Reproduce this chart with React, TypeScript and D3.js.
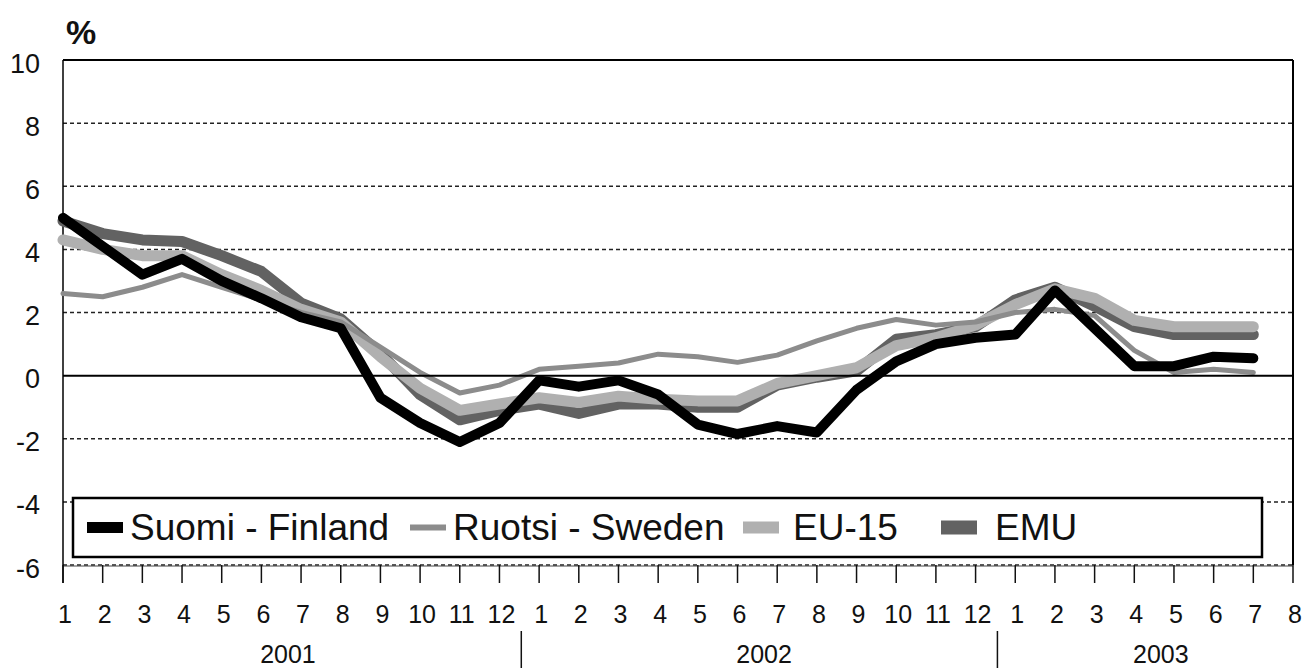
import React from "react";
import * as d3 from "d3";

// 2001-1 ... 2003-7, monthly
const finland = [
  5.0, 4.1, 3.2, 3.7, 3.0, 2.45, 1.85, 1.5, -0.7, -1.5, -2.1, -1.5,
  -0.15, -0.35, -0.15, -0.6, -1.55, -1.85, -1.6, -1.8, -0.45, 0.45, 1.0, 1.2,
  1.3, 2.7, 1.5, 0.3, 0.3, 0.6, 0.55,
];
const sweden = [
  2.6, 2.5, 2.8, 3.2, 2.8, 2.4, 2.0, 1.7, 0.9, 0.1, -0.55, -0.3,
  0.2, 0.3, 0.4, 0.68, 0.6, 0.42, 0.65, 1.1, 1.5, 1.78, 1.6, 1.7,
  2.0, 2.1, 1.9, 0.8, 0.1, 0.2, 0.1,
];
const eu15 = [
  4.3, 4.0, 3.8, 3.8, 3.2, 2.7, 2.1, 1.7, 0.6, -0.4, -1.1, -0.9,
  -0.7, -0.85, -0.65, -0.75, -0.8, -0.8, -0.25, 0.0, 0.25, 0.95, 1.2, 1.6,
  2.25, 2.75, 2.45, 1.75, 1.55, 1.55, 1.55,
];
const emu = [
  4.9, 4.5, 4.3, 4.25, 3.8, 3.3, 2.3, 1.8, 0.7, -0.6, -1.4, -1.1,
  -0.9, -1.2, -0.9, -0.9, -1.0, -1.0, -0.3, -0.05, 0.15, 1.15, 1.3, 1.55,
  2.4, 2.8, 2.2, 1.55, 1.3, 1.3, 1.3,
];

const monthLabels = [
  "1", "2", "3", "4", "5", "6", "7", "8", "9", "10", "11", "12",
  "1", "2", "3", "4", "5", "6", "7", "8", "9", "10", "11", "12",
  "1", "2", "3", "4", "5", "6", "7", "8",
];
const years = ["2001", "2002", "2003"];
const yearStart = [0, 12, 24];
const yearEnd = [11, 23, 31];
const yTicks = [10, 8, 6, 4, 2, 0, -2, -4, -6];

const series = [
  { name: "EMU", values: emu, color: "#626262", width: 11 },
  { name: "EU-15", values: eu15, color: "#b0b0b0", width: 11 },
  { name: "Ruotsi - Sweden", values: sweden, color: "#8c8c8c", width: 5 },
  { name: "Suomi - Finland", values: finland, color: "#000", width: 10 },
];

const legendItems = [
  { name: "Suomi - Finland", color: "#000", h: 11, sx: 87, tx: 130 },
  { name: "Ruotsi - Sweden", color: "#8c8c8c", h: 6, sx: 410, tx: 453 },
  { name: "EU-15", color: "#b0b0b0", h: 12, sx: 743, tx: 793 },
  { name: "EMU", color: "#626262", h: 14, sx: 941, tx: 995 },
];

const W = 1305;
const H = 668;
const left = 63;
const right = 1293;
const top = 60;
const bottom = 565;
const font = "'Liberation Sans', Arial, sans-serif";

const App = () => {
  const x = d3.scaleLinear().domain([0, monthLabels.length - 1]).range([left, right]);
  const y = d3.scaleLinear().domain([-6, 10]).range([bottom, top]);

  const line = d3
    .line<number>()
    .x((_, i) => x(i))
    .y((d) => y(d));

  return (
    <svg
      width={W}
      height={H}
      style={{ position: "absolute", left: 0, top: 0, background: "#fff" }}
      fontFamily={font}
    >
      <rect x={0} y={0} width={W} height={H} fill="#fff" />

      {/* gridlines */}
      {yTicks
        .filter((t) => t !== 10 && t !== 0)
        .map((t) => (
          <line
            key={t}
            x1={left}
            x2={right}
            y1={y(t)}
            y2={y(t)}
            stroke="#222"
            strokeWidth={1.5}
            strokeDasharray="4 3"
          />
        ))}
      <line x1={left} x2={right} y1={bottom + 1} y2={bottom + 1} stroke="#444" strokeWidth={1} />

      {/* frame */}
      <line x1={left} x2={right} y1={top} y2={top} stroke="#000" strokeWidth={2} />
      <line x1={right} x2={right} y1={top} y2={bottom} stroke="#000" strokeWidth={2} />
      <line x1={left} x2={left} y1={top} y2={bottom + 18} stroke="#000" strokeWidth={1.5} />

      {/* y labels */}
      {yTicks.map((t) => (
        <text key={t} x={40} y={y(t) + 12.5} textAnchor="end" fontSize={27} fill="#111">
          {t}
        </text>
      ))}
      <text x={66} y={44} fontSize={34} fontWeight="bold" fill="#111">
        %
      </text>

      {/* x ticks & labels */}
      {monthLabels.map((m, i) => (
        <g key={i}>
          <line x1={x(i)} x2={x(i)} y1={bottom} y2={bottom + 18} stroke="#111" strokeWidth={1.5} />
          <text x={x(i) + 2} y={623} textAnchor="middle" fontSize={25} fill="#111">
            {m}
          </text>
        </g>
      ))}
      {years.map((yr, k) => (
        <text
          key={yr}
          x={x((yearStart[k] + yearEnd[k]) / 2 + 0.17)}
          y={663}
          textAnchor="middle"
          fontSize={25}
          fill="#111"
        >
          {yr}
        </text>
      ))}
      {[11.5, 23.5].map((p) => (
        <line key={p} x1={x(p) + 2} x2={x(p) + 2} y1={631} y2={H} stroke="#111" strokeWidth={1.5} />
      ))}

      {/* series */}
      {series.map((s) => (
        <path
          key={s.name}
          d={line(s.values) || ""}
          fill="none"
          stroke={s.color}
          strokeWidth={s.width}
          strokeLinejoin="round"
          strokeLinecap="round"
        />
      ))}

      {/* zero line */}
      <line x1={left} x2={right} y1={y(0)} y2={y(0)} stroke="#000" strokeWidth={2} />

      {/* legend */}
      <rect x={73} y={498} width={1189} height={59} fill="#fff" stroke="#000" strokeWidth={2.5} />
      {legendItems.map((l) => (
        <g key={l.name}>
          <rect x={l.sx} y={527.5 - l.h / 2} width={36} height={l.h} fill={l.color} />
          <text x={l.tx} y={540} fontSize={37} fill="#111">
            {l.name}
          </text>
        </g>
      ))}
    </svg>
  );
};

export default App;
